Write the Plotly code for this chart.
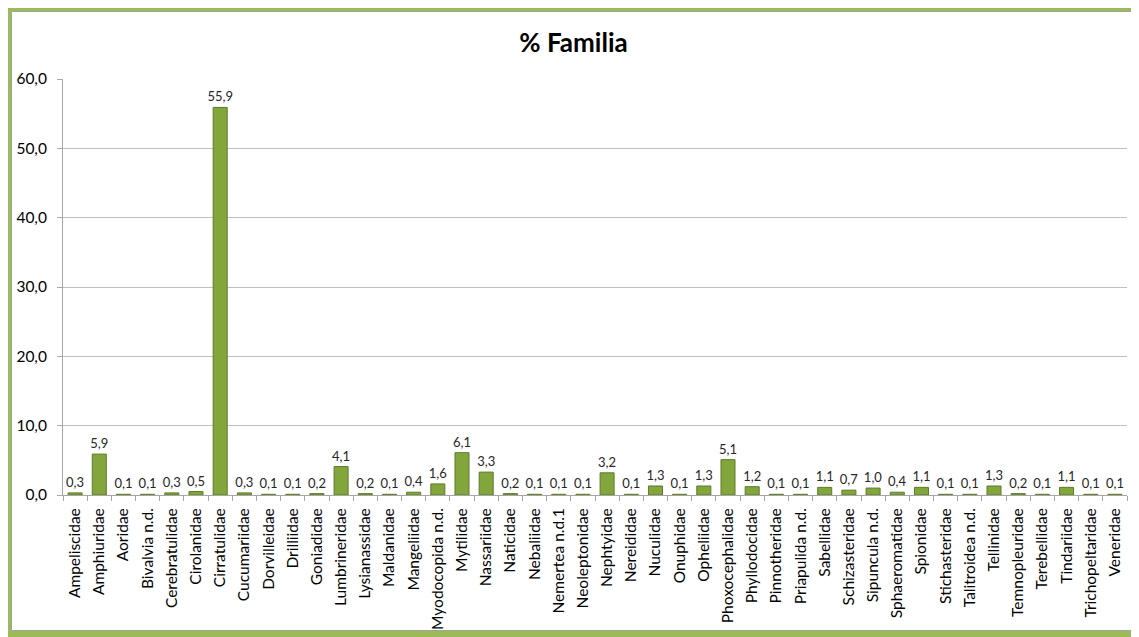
import plotly.graph_objects as go

families = ["Ampeliscidae", "Amphiuridae", "Aoridae", "Bivalvia n.d.", "Cerebratulidae",
            "Cirolanidae", "Cirratulidae", "Cucumariidae", "Dorvilleidae", "Drilliidae",
            "Goniadidae", "Lumbrineridae", "Lysianassidae", "Maldanidae", "Mangeliidae",
            "Myodocopida n.d.", "Mytilidae", "Nassariidae", "Naticidae", "Nebaliidae",
            "Nemertea n.d.1", "Neoleptonidae", "Nephtyidae", "Nereididae", "Nuculidae",
            "Onuphidae", "Opheliidae", "Phoxocephalidae", "Phyllodocidae", "Pinnotheridae",
            "Priapulida n.d.", "Sabellidae", "Schizasteridae", "Sipuncula n.d.", "Sphaeromatidae",
            "Spionidae", "Stichasteridae", "Talitroidea n.d.", "Tellinidae", "Temnopleuridae",
            "Terebellidae", "Tindariidae", "Trichopeltaridae", "Veneridae"]
percent = [0.3, 5.9, 0.1, 0.1, 0.3, 0.5, 55.9, 0.3, 0.1, 0.1,
           0.2, 4.1, 0.2, 0.1, 0.4, 1.6, 6.1, 3.3, 0.2, 0.1,
           0.1, 0.1, 3.2, 0.1, 1.3, 0.1, 1.3, 5.1, 1.2, 0.1,
           0.1, 1.1, 0.7, 1.0, 0.4, 1.1, 0.1, 0.1, 1.3, 0.2,
           0.1, 1.1, 0.1, 0.1]
y_ticks = [0, 10, 20, 30, 40, 50, 60]

FONT = "Lato, 'Liberation Sans', sans-serif"

fig = go.Figure()
fig.add_trace(go.Bar(
    x=families, y=percent,
    marker=dict(color="#82A63C", line=dict(color="#5E7A2A", width=1)),
    texttemplate="%{y:.1f}", textposition="outside", constraintext="none",
    textfont=dict(size=13, color="#262626", family=FONT),
    cliponaxis=False,
))

# page body has an 8px offset; reference pixel coords are shifted accordingly
OFF = 8
W, H = 1139 - OFF, 637 - OFF
L, T = 63 - OFF, 79 - OFF
R = (1139 - 1127)
B = 637 - 495
pw, ph = W - L - R, H - T - B

def px(x):
    return (x - OFF - L) / pw

def py(y):
    return (H - B - (y - OFF)) / ph

fig.update_layout(
    width=W, height=H,
    margin=dict(l=L, r=R, t=T, b=B, autoexpand=False),
    paper_bgcolor="white", plot_bgcolor="white",
    separators=", ",
    bargap=0.42,
    showlegend=False,
    title=dict(text="<b>% Familia</b>", x=0.5, xanchor="center", y=1 - (43 - OFF) / H, yanchor="middle",
               font=dict(size=26, color="black", family=FONT)),
    font=dict(family=FONT, color="black"),
    xaxis=dict(
        tickangle=-90, tickfont=dict(size=15.5, color="black"),
        showline=True, linecolor="#A6A6A6", linewidth=1,
        ticks="outside", tickson="boundaries", ticklen=5, tickcolor="#A6A6A6",
        ticklabelstandoff=6,
        showgrid=False,
    ),
    yaxis=dict(
        range=[0, 60], tickvals=y_ticks, tickformat=".1f",
        tickfont=dict(size=15.5, color="black"),
        showline=True, linecolor="#A6A6A6", linewidth=1,
        ticks="outside", ticklen=5, tickcolor="#A6A6A6",
        ticklabelstandoff=7,
        showgrid=True, gridcolor="#BFBFBF", gridwidth=1,
        zeroline=False,
    ),
    shapes=[
        dict(type="rect", xref="paper", yref="paper",
             x0=px(8), x1=px(1136), y0=py(634), y1=py(8),
             line=dict(color="#9BBB59", width=6), fillcolor="rgba(0,0,0,0)", layer="below"),
        dict(type="rect", xref="paper", yref="paper",
             x0=px(11.5), x1=px(1132.5), y0=py(630.5), y1=py(11.5),
             line=dict(color="#A0A0A0", width=1), fillcolor="rgba(0,0,0,0)", layer="below"),
    ],
)

fig.write_html("out.html")
